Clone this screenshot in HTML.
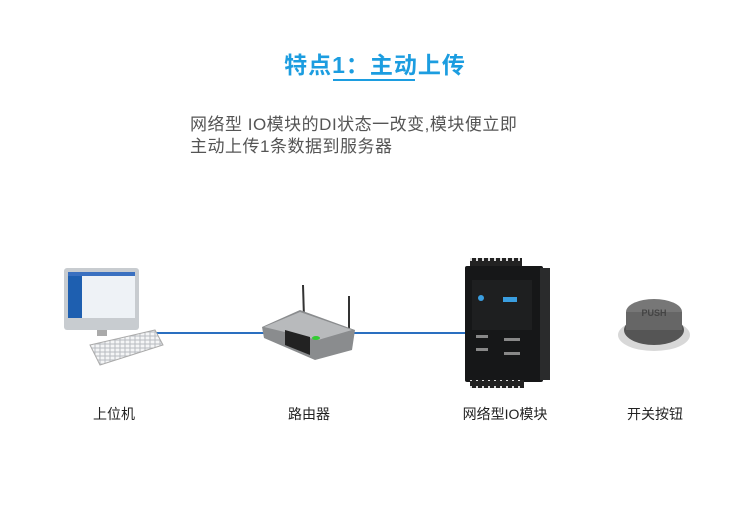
<!DOCTYPE html>
<html><head><meta charset="utf-8"><style>
body{margin:0;width:750px;height:525px;background:#fff;position:relative;overflow:hidden;font-family:"Liberation Sans","Noto Sans CJK SC",sans-serif}
.a{position:absolute}
.lbl{position:absolute;top:404px;font-size:14px;color:#222;transform:translateX(-50%);white-space:nowrap}
</style></head><body>
<div class="a" style="left:0;width:750px;top:46px;text-align:center;font-size:23px;font-weight:bold;color:#1c9de0;letter-spacing:1px">特点1：主动上传</div>
<div class="a" style="left:333px;top:79px;width:82px;height:2px;background:#1c9de0"></div>
<div class="a" style="left:190px;top:114px;font-size:17px;color:#555;line-height:22px;letter-spacing:0.5px">网络型 IO模块的DI状态一改变,模块便立即<br>主动上传1条数据到服务器</div>
<div class="a" style="left:148px;top:332px;width:318px;height:2px;background:#2a6fc0"></div>
<svg class="a" style="left:0;top:0" width="750" height="525">
<defs><pattern id="k" width="5" height="4" patternUnits="userSpaceOnUse"><rect width="5" height="4" fill="#b8bcc0"/><rect x="0.5" y="0.5" width="4" height="3" fill="#f4f5f6"/></pattern>
<pattern id="t" width="6" height="8" patternUnits="userSpaceOnUse"><rect width="6" height="8" fill="#222"/><rect x="2" y="2" width="2" height="3" fill="#ddd"/></pattern></defs>
<!-- computer -->
<rect x="64" y="268" width="75" height="62" rx="3" fill="#c8ccd0"/>
<rect x="68" y="272" width="67" height="46" fill="#eef2f6"/>
<rect x="68" y="272" width="14" height="46" fill="#1e5fb0"/>
<rect x="68" y="272" width="67" height="4" fill="#3a70c0"/>
<rect x="97" y="330" width="10" height="6" fill="#aaa"/>
<polygon points="90,345 155,330 163,345 100,365" fill="url(#k)" stroke="#aaa"/>
<!-- router -->
<line x1="303" y1="285" x2="304" y2="318" stroke="#333" stroke-width="2"/>
<line x1="349" y1="296" x2="349" y2="330" stroke="#333" stroke-width="2"/>
<polygon points="262,327 300,310 355,330 352,350 315,360 264,338" fill="#8a8c8e"/>
<polygon points="264,327 300,312 352,330 318,340" fill="#b8babc"/>
<polygon points="285,330 310,337 310,355 285,345" fill="#222"/>
<ellipse cx="316" cy="338" rx="4" ry="2" fill="#3c3"/>
<!-- module -->
<rect x="470" y="258" width="52" height="10" fill="url(#t)"/>
<rect x="465" y="266" width="78" height="116" rx="2" fill="#161718"/>
<rect x="540" y="268" width="10" height="112" fill="#2a2b2c"/>
<rect x="472" y="280" width="60" height="50" fill="#1e1f20"/>
<rect x="503" y="297" width="14" height="5" fill="#3a9ee0"/>
<circle cx="481" cy="298" r="3" fill="#3a9ee0"/>
<rect x="476" y="335" width="12" height="3" fill="#888"/><rect x="504" y="338" width="16" height="3" fill="#888"/>
<rect x="476" y="348" width="12" height="3" fill="#888"/><rect x="504" y="352" width="16" height="3" fill="#888"/>
<rect x="470" y="380" width="54" height="8" fill="url(#t)"/>
<!-- button -->
<ellipse cx="654" cy="335" rx="36" ry="16" fill="#d8d8d8"/>
<ellipse cx="654" cy="330" rx="30" ry="15" fill="#555"/>
<ellipse cx="654" cy="312" rx="28" ry="13" fill="#777"/>
<rect x="626" y="312" width="56" height="18" fill="#666"/>
<text x="654" y="316" font-size="9" font-weight="bold" fill="#444" text-anchor="middle" font-family="Liberation Sans">PUSH</text>
</svg>
<div class="lbl" style="left:114px">上位机</div>
<div class="lbl" style="left:309px">路由器</div>
<div class="lbl" style="left:505px">网络型IO模块</div>
<div class="lbl" style="left:655px">开关按钮</div>
</body></html>
